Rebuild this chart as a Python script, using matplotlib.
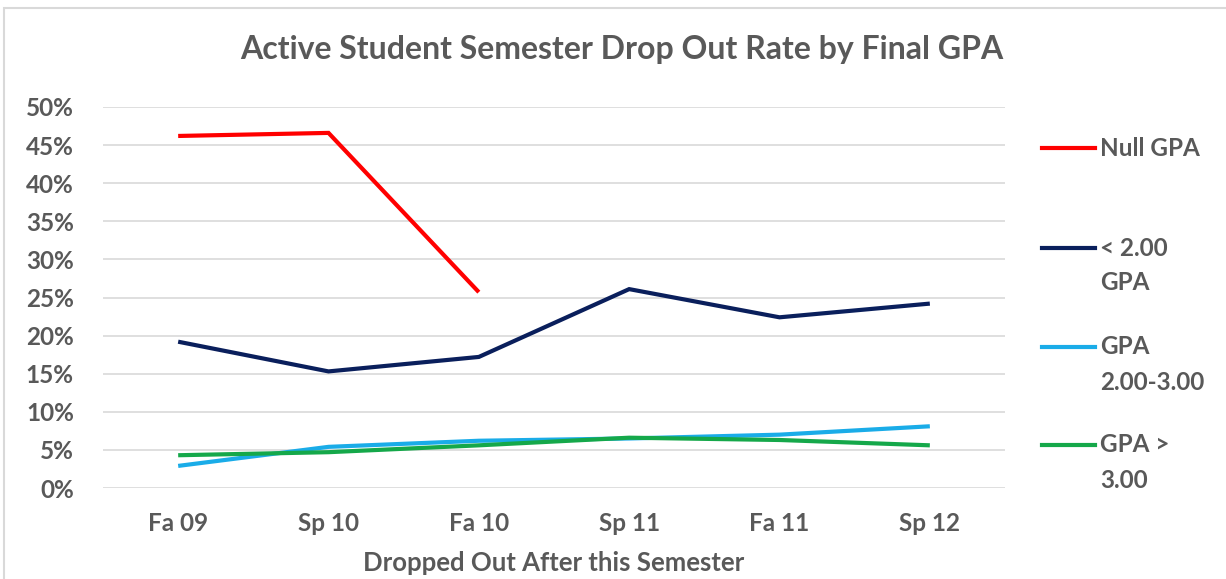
import matplotlib
matplotlib.use("Agg")
import matplotlib.pyplot as plt
from matplotlib.lines import Line2D
from matplotlib.patches import Rectangle
import numpy as np

semesters = ["Fa 09", "Sp 10", "Fa 10", "Sp 11", "Fa 11", "Sp 12"]
null_gpa = [0.462, 0.466, 0.257, np.nan, np.nan, np.nan]
below_2 = [0.192, 0.153, 0.172, 0.261, 0.224, 0.242]
gpa_2_3 = [0.029, 0.054, 0.062, 0.065, 0.070, 0.081]
gpa_above_3 = [0.043, 0.047, 0.056, 0.066, 0.063, 0.056]
series_labels = ["Null GPA", "< 2.00\nGPA", "GPA\n2.00-3.00", "GPA >\n3.00"]
colors = ["#FF0000", "#0A1F5C", "#1AACE8", "#15A84A"]

plt.rcParams['font.family'] = ['Lato', 'DejaVu Sans']
TXT = "#595959"
FS = 17.5
W = 'bold'

fig = plt.figure(figsize=(12.26, 5.79), dpi=100)
ax = fig.add_axes([103/1226, 1-488/579, (1005-103)/1226, (488-107)/579])

x = np.arange(len(semesters))
for vals, c in zip([null_gpa, below_2, gpa_2_3, gpa_above_3], colors):
    ax.plot(x, vals, color=c, lw=3.0, solid_capstyle='butt', solid_joinstyle='miter')

ax.set_xlim(-0.5, len(semesters) - 0.5)
ax.set_ylim(0, 0.5)
yt = np.arange(0, 0.501, 0.05)
ax.set_yticks(yt)
ax.set_yticklabels([f"{int(round(v*100))}%" for v in yt], fontsize=FS, color=TXT, fontweight=W)
ax.set_xticks(x)
ax.set_xticklabels(semesters, fontsize=FS, color=TXT, fontweight=W)
ax.tick_params(axis='both', length=0)
ax.tick_params(axis='y', pad=21)
ax.tick_params(axis='x', pad=17)
ax.grid(axis='y', color="#D9D9D9", lw=1.2)
ax.set_axisbelow(True)
for s in ax.spines.values():
    s.set_visible(False)

fig.text(554/1226, 1-563/579, "Dropped Out After this Semester", ha='center', va='center',
         fontsize=18.5, color=TXT, fontweight=W)

fig.text(622/1226, 1-50/579, "Active Student Semester Drop Out Rate by Final GPA",
         ha='center', va='center', fontsize=23, fontweight='bold', color=TXT)

# legend (manual placement of entries)
handle_y = [148, 248, 347, 445]
line_gap = 35
for lab, c, hy in zip(series_labels, colors, handle_y):
    yf = 1 - hy/579
    fig.add_artist(Line2D([1042/1226, 1095/1226], [yf, yf], color=c, lw=3.0,
                          transform=fig.transFigure))
    for i, part in enumerate(lab.split("\n")):
        fig.text(1100/1226, 1 - (hy + i*line_gap)/579, part, ha='left', va='center',
                 fontsize=FS, color=TXT, fontweight=W)

fig.add_artist(Rectangle((4/1226, -0.05), 1.2, 1-8/579 + 0.05, transform=fig.transFigure,
                         fill=False, edgecolor="#D9D9D9", lw=1.5))

fig.savefig("out.png", dpi=100)
